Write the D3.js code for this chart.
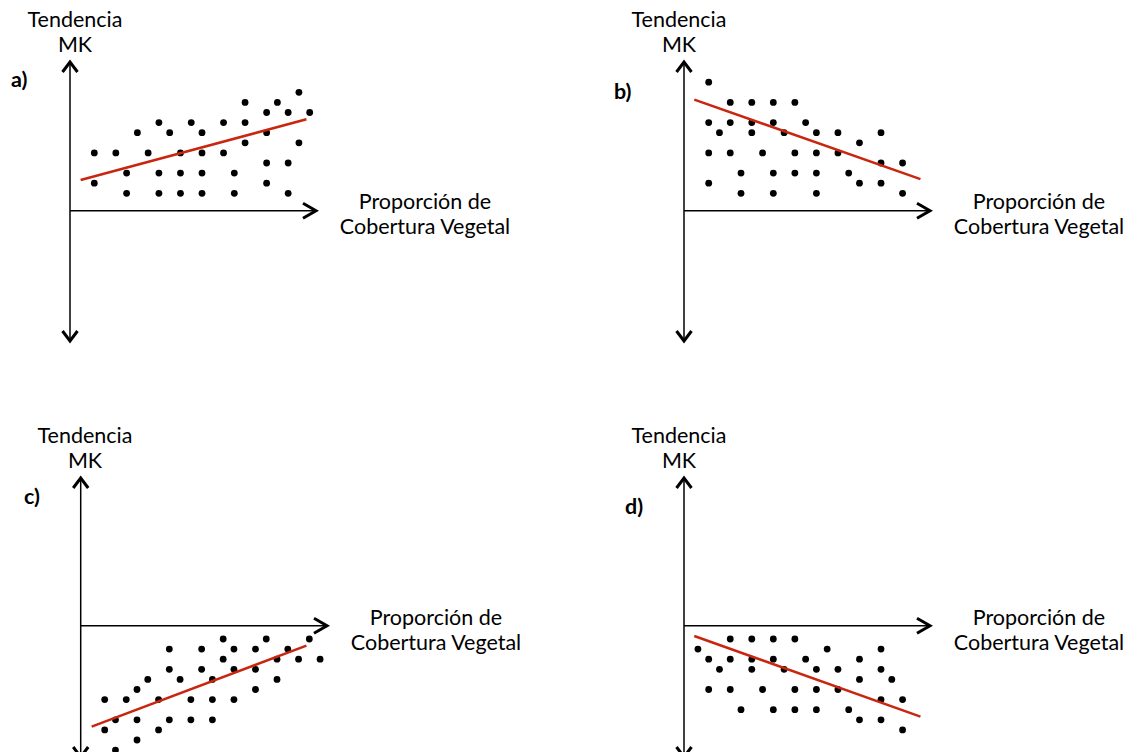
<!DOCTYPE html>
<html>
<head>
<meta charset="utf-8">
<script src="https://cdn.jsdelivr.net/npm/d3@7"></script>
<style>
  body { margin: 0; background: #fff; }
  svg text { font-family: Lato, "Open Sans", sans-serif; fill: #000; }
</style>
</head>
<body>
<div id="chart"></div>
<script>
// panel letters and axis titles
const panels = ['a)', 'b)', 'c)', 'd)'];
const yTitle = ['Tendencia', 'MK'];
const xTitle = ['Proporción de', 'Cobertura Vegetal'];

// points: x = column on the cover axis, y = MK trend level (negative below the axis)
const a_x = [0, 2, 0, 3, 3, 4, 5, 6, 6, 6, 7, 8, 8, 8, 9, 10, 10, 10, 10, 12, 12, 13, 13, 14, 14, 14, 16, 16, 16, 16, 17, 18, 18, 18, 19, 19, 20];
const a_y = [4, 4, 1, 2, 0, 6, 4, 7, 2, 0, 6, 4, 2, 0, 7, 6, 4, 2, 0, 7, 4, 2, 0, 9, 7, 5, 8, 6, 3, 1, 9, 8, 3, 0, 10, 5, 8];

const b_x = [0, 2, 4, 6, 8, 0, 2, 4, 6, 9, 1, 4, 7, 10, 12, 16, 14, 0, 2, 5, 8, 10, 12, 16, 18, 3, 6, 8, 10, 13, 0, 14, 16, 3, 6, 10, 18];
const b_y = [11, 9, 9, 9, 9, 7, 7, 7, 7, 7, 6, 6, 6, 6, 6, 6, 5, 4, 4, 4, 4, 4, 4, 3, 3, 2, 2, 2, 2, 2, 1, 1, 1, 0, 0, 0, 0];

const c_x = [11, 15, 19, 6, 9, 12, 14, 17, 11, 16, 18, 20, 6, 9, 12, 14, 4, 7, 10, 16, 3, 14, 0, 2, 5, 8, 10, 12, 1, 3, 6, 8, 10, 0, 5, 3, 1];
const c_y = [0, 0, 0, -1, -1, -1, -1, -1, -2, -2, -2, -2, -3, -3, -3, -3, -4, -4, -4, -4, -5, -5, -6, -6, -6, -6, -6, -6, -8, -8, -8, -8, -8, -9, -9, -10, -11];

const d_x = [2, 4, 6, 8, -1, 11, 16, 0, 2, 4, 6, 9, 14, 1, 4, 7, 10, 12, 16, 14, 17, 0, 2, 5, 8, 10, 12, 16, 18, 3, 6, 8, 10, 13, 14, 16, 18];
const d_y = [0, 0, 0, 0, -1, -1, -1, -2, -2, -2, -2, -2, -2, -3, -3, -3, -3, -3, -3, -4, -4, -5, -5, -5, -5, -5, -5, -6, -6, -7, -7, -7, -7, -7, -8, -8, -9];

// trend lines (start and end, same units)
const trend_x = [[-1.27, 19.7], [-1.34, 19.66], [-1.21, 18.73], [-1.34, 19.66]];
const trend_y = [[1.31, 7.33], [9.28, 1.41], [-8.68, -0.66], [0.3, -7.69]];

const xs = [a_x, b_x, c_x, d_x];
const ys = [a_y, b_y, c_y, d_y];

// layout of each panel
const layout = [
    { ox: 70, oy: 210.7, x0: 94.3, y0: 193.3, top: 62, bottom: 341, right: 316, tx: 75, ty: 27, lx: 11, ly: 87, px: 425, py: 209 },
    { ox: 684, oy: 210.7, x0: 708.7, y0: 193.3, top: 62, bottom: 341, right: 930, tx: 679, ty: 27, lx: 614, ly: 99, px: 1039, py: 209 },
    { ox: 80.7, oy: 625.7, x0: 104.7, y0: 639, top: 478, bottom: 757, right: 327, tx: 85, ty: 443, lx: 24, ly: 504, px: 436, py: 625 },
    { ox: 684, oy: 625.7, x0: 708.7, y0: 639, top: 478, bottom: 757, right: 930, tx: 679, ty: 443, lx: 625, ly: 514, px: 1039, py: 625 }
];

const width = 1129, height = 752;
const col_step = 10.77, row_step = 10.1;
const font_size = '21.5px';

const svg = d3.select('#chart')
    .append('svg')
    .attr('width', width)
    .attr('height', height);

const chevron = (tip, dir) => {
    // open arrow head, dir = direction the arrow points
    const back = 10, spread = 7.5;
    const [x, y] = tip;
    if (dir === 'up') return `M${x - spread},${y + back}L${x},${y}L${x + spread},${y + back}`;
    if (dir === 'down') return `M${x - spread},${y - back}L${x},${y}L${x + spread},${y - back}`;
    return `M${x - back * 1.3},${y - spread}L${x},${y}L${x - back * 1.3},${y + spread}`;
};

panels.forEach((label, i) => {
    const p = layout[i];
    const g = svg.append('g');

    const x_scale = d3.scaleLinear()
        .domain([0, 20])
        .range([p.x0, p.x0 + 20 * col_step]);
    const y_scale = d3.scaleLinear()
        .domain([0, 10])
        .range([p.y0, p.y0 - 10 * row_step]);

    // axes
    g.append('line')
        .attr('x1', p.ox).attr('x2', p.ox)
        .attr('y1', p.top + 1).attr('y2', p.bottom - 1)
        .attr('stroke', '#000').attr('stroke-width', 1.5);
    g.append('line')
        .attr('x1', p.ox).attr('x2', p.right - 1)
        .attr('y1', p.oy).attr('y2', p.oy)
        .attr('stroke', '#000').attr('stroke-width', 1.5);

    [chevron([p.ox, p.top], 'up'), chevron([p.ox, p.bottom], 'down'), chevron([p.right, p.oy], 'right')]
        .forEach(d => {
            g.append('path')
                .attr('d', d)
                .attr('fill', 'none')
                .attr('stroke', '#000')
                .attr('stroke-width', 3)
                .attr('stroke-linejoin', 'miter');
        });

    // points
    const pts = xs[i].map((x, k) => ({ x: x, y: ys[i][k] }));
    g.selectAll('circle')
        .data(pts)
        .enter()
        .append('circle')
        .attr('cx', d => x_scale(d.x))
        .attr('cy', d => y_scale(d.y))
        .attr('r', 3.4)
        .attr('fill', '#000');

    // trend line
    const line = d3.line()
        .x(d => x_scale(d[0]))
        .y(d => y_scale(d[1]));
    g.append('path')
        .datum(trend_x[i].map((x, k) => [x, trend_y[i][k]]))
        .attr('fill', 'none')
        .attr('stroke', '#C8260F')
        .attr('stroke-width', 2.5)
        .attr('d', line);

    // texts
    g.append('text')
        .attr('x', p.lx).attr('y', p.ly)
        .style('font-weight', 'bold')
        .style('font-size', font_size)
        .text(label);

    yTitle.forEach((t, k) => {
        g.append('text')
            .attr('x', p.tx).attr('y', p.ty + k * 25)
            .attr('text-anchor', 'middle')
            .style('font-size', font_size)
            .text(t);
    });

    xTitle.forEach((t, k) => {
        g.append('text')
            .attr('x', p.px).attr('y', p.py + k * 25)
            .attr('text-anchor', 'middle')
            .style('font-size', font_size)
            .text(t);
    });
});
</script>
</body>
</html>
